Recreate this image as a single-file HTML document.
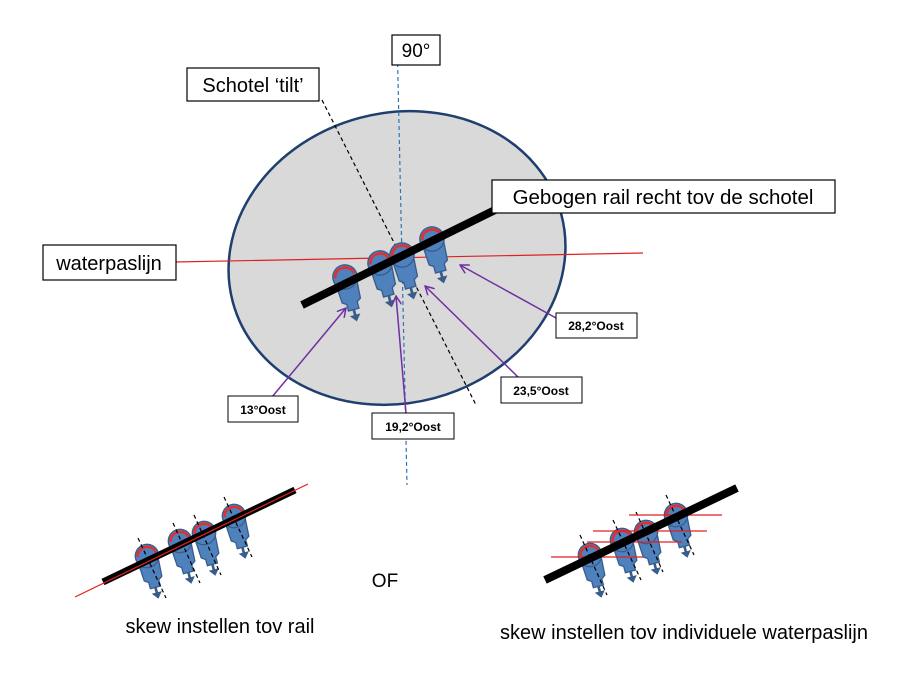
<!DOCTYPE html>
<html><head><meta charset="utf-8"><style>
html,body{margin:0;padding:0;background:#fff;}
svg{display:block;}
text{font-family:"Liberation Sans",sans-serif;}
</style></head><body>
<svg width="900" height="674" viewBox="0 0 900 674" xmlns="http://www.w3.org/2000/svg">
<defs>
<marker id="pa" markerWidth="10" markerHeight="10" refX="9" refY="5" orient="auto" markerUnits="userSpaceOnUse">
<path d="M0,0 L9,5 L0,10" fill="none" stroke="#7030a0" stroke-width="1.5"/></marker>
<g id="lnb">
<path d="M-8,2 L8,2 L7,18 L4,20 L4,25 L-4,25 L-4,20 L-7,18 Z" fill="#4f81bd" stroke="#385d8a" stroke-width="1"/>
<circle cx="0" cy="0" r="9" fill="#4f81bd" stroke="#385d8a" stroke-width="1"/>
<path d="M-7,-1 A7,6 0 0 1 7,-1" fill="none" stroke="#e03030" stroke-width="2"/>
<line x1="0" y1="25" x2="0" y2="31" stroke="#385d8a" stroke-width="2"/>
<path d="M-4,29 L0,34 L4,29 Z" fill="#385d8a"/>
</g>
</defs>

<ellipse cx="397" cy="258" rx="170" ry="145" transform="rotate(-15 397 258)" fill="#d9d9d9" stroke="#1f3f6f" stroke-width="2.5"/>

<line x1="397" y1="35" x2="407" y2="485" stroke="#2e75b6" stroke-width="1.2" stroke-dasharray="4,3"/>
<line x1="322" y1="100" x2="476" y2="405" stroke="#000" stroke-width="1.2" stroke-dasharray="4,3"/>
<line x1="175" y1="262" x2="643" y2="253" stroke="#e02020" stroke-width="1.2"/>

<use href="#lnb" transform="translate(345,277) rotate(-15) scale(1.35)"/>
<use href="#lnb" transform="translate(380,263) rotate(-15) scale(1.35)"/>
<use href="#lnb" transform="translate(402,255) rotate(-15) scale(1.35)"/>
<use href="#lnb" transform="translate(432,239) rotate(-15) scale(1.35)"/>
<line x1="302" y1="305" x2="495" y2="210" stroke="#000" stroke-width="8"/>

<line x1="556" y1="318" x2="460" y2="265" stroke="#7030a0" stroke-width="1.5" marker-end="url(#pa)"/>
<line x1="518" y1="377" x2="425" y2="286" stroke="#7030a0" stroke-width="1.5" marker-end="url(#pa)"/>
<line x1="272" y1="397" x2="346" y2="308" stroke="#7030a0" stroke-width="1.5" marker-end="url(#pa)"/>
<line x1="406" y1="413" x2="396" y2="296" stroke="#7030a0" stroke-width="1.5" marker-end="url(#pa)"/>

<rect x="392" y="35" width="48" height="30" fill="#fff" stroke="#000" stroke-width="1.2"/>
<text x="416" y="57" font-size="19" text-anchor="middle">90°</text>
<rect x="187" y="68" width="132" height="33" fill="#fff" stroke="#000" stroke-width="1.2"/>
<text x="253" y="92" font-size="20" text-anchor="middle">Schotel ‘tilt’</text>
<rect x="492" y="180" width="343" height="33" fill="#fff" stroke="#000" stroke-width="1.2"/>
<text x="663" y="204" font-size="20.5" text-anchor="middle">Gebogen rail recht tov de schotel</text>
<rect x="43" y="245" width="133" height="35" fill="#fff" stroke="#000" stroke-width="1.2"/>
<text x="109" y="270" font-size="20" text-anchor="middle">waterpaslijn</text>

<g font-size="12" font-weight="bold" text-anchor="middle">
<rect x="556" y="313" width="81" height="25" fill="#fff" stroke="#000"/><text x="596" y="330">28,2°Oost</text>
<rect x="501" y="377" width="81" height="26" fill="#fff" stroke="#000"/><text x="541" y="395">23,5°Oost</text>
<rect x="228" y="396" width="70" height="26" fill="#fff" stroke="#000"/><text x="263" y="414">13°Oost</text>
<rect x="372" y="413" width="82" height="26" fill="#fff" stroke="#000"/><text x="413" y="431">19,2°Oost</text>
</g>

<use href="#lnb" transform="translate(147,556) rotate(-15) scale(1.3)"/>
<use href="#lnb" transform="translate(180,541) rotate(-15) scale(1.3)"/>
<use href="#lnb" transform="translate(204,533) rotate(-15) scale(1.3)"/>
<use href="#lnb" transform="translate(234,516) rotate(-15) scale(1.3)"/>
<g stroke="#000" stroke-width="1.2" stroke-dasharray="4,3">
<line x1="138" y1="538" x2="166" y2="598"/>
<line x1="173" y1="523" x2="200" y2="583"/>
<line x1="194" y1="515" x2="221" y2="575"/>
<line x1="224" y1="497" x2="252" y2="557"/>
</g>
<line x1="103" y1="582" x2="295" y2="490" stroke="#000" stroke-width="7"/>
<line x1="75" y1="597" x2="308" y2="484" stroke="#e02020" stroke-width="1.2"/>

<text x="385" y="587" font-size="19" text-anchor="middle">OF</text>

<use href="#lnb" transform="translate(590,555) rotate(-15) scale(1.3)"/>
<use href="#lnb" transform="translate(622,540) rotate(-15) scale(1.3)"/>
<use href="#lnb" transform="translate(646,532) rotate(-15) scale(1.3)"/>
<use href="#lnb" transform="translate(676,515) rotate(-15) scale(1.3)"/>
<g stroke="#000" stroke-width="1.2" stroke-dasharray="4,3">
<line x1="580" y1="535" x2="607" y2="595"/>
<line x1="613" y1="520" x2="641" y2="580"/>
<line x1="636" y1="512" x2="663" y2="572"/>
<line x1="666" y1="495" x2="694" y2="555"/>
</g>
<g stroke="#e02020" stroke-width="1.2">
<line x1="551" y1="557" x2="643" y2="557"/>
<line x1="587" y1="542" x2="682" y2="542"/>
<line x1="593" y1="531" x2="707" y2="531"/>
<line x1="629" y1="515" x2="722" y2="515"/>
</g>
<line x1="545" y1="580" x2="737" y2="488" stroke="#000" stroke-width="8"/>

<text x="220" y="633" font-size="20" text-anchor="middle">skew instellen tov rail</text>
<text x="684" y="639" font-size="20" text-anchor="middle">skew instellen tov individuele waterpaslijn</text>
</svg>
</body></html>
